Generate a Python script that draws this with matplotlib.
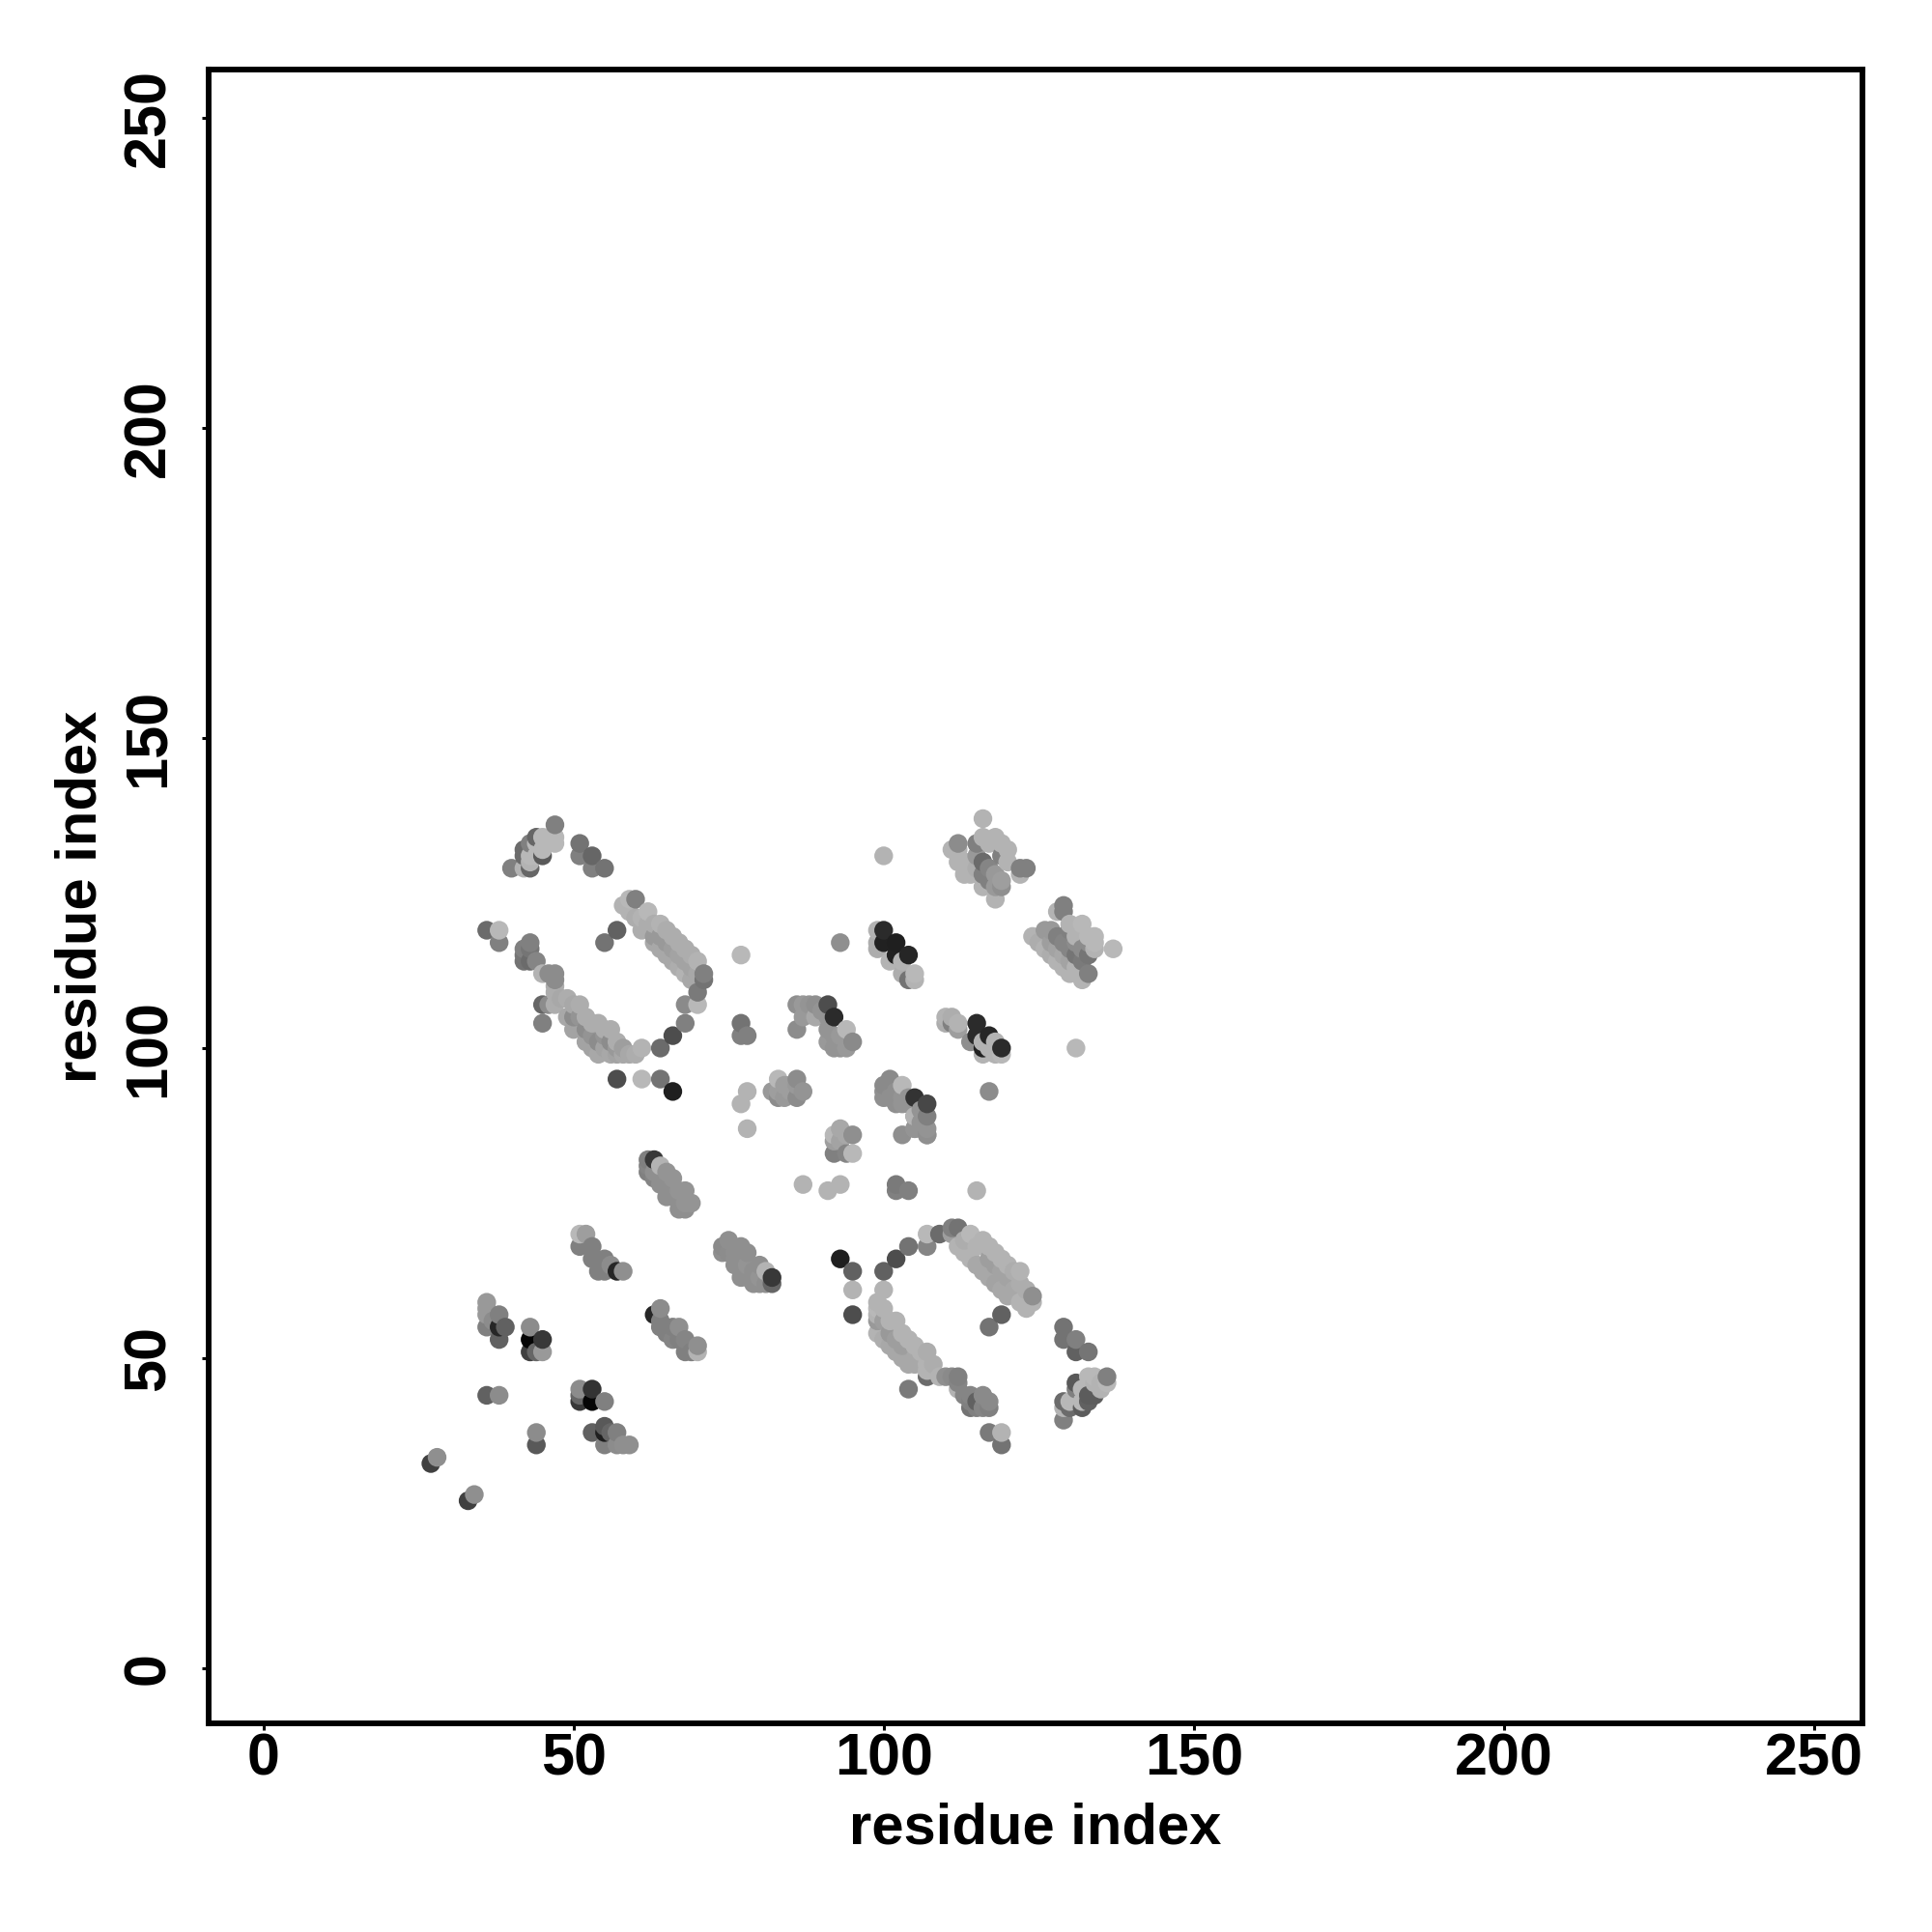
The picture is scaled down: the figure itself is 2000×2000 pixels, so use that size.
import numpy as np
import matplotlib
matplotlib.use('Agg')
import matplotlib.pyplot as plt

plt.rcParams['font.family'] = ['Liberation Sans', 'DejaVu Sans']

tick_values = [0, 50, 100, 150, 200, 250]
x_limits = (-8.83, 257.8)
y_limits = (-8.9, 257.8)
axis_label = 'residue index'

# one line per cluster, x / y / grey level stay in the same order
contact_x = [
    40, 42, 42, 42, 43, 43, 43, 43, 44, 44, 44, 45, 45, 45, 46, 46, 47, 47, 47, 51, 51, 53, 53, 55,
    36, 38, 38, 55, 57, 77,
    42, 42, 42, 43, 43, 43, 44, 45, 46, 47, 47,
    45, 45, 46, 47, 47, 47, 48, 49, 49, 50, 50, 50, 51, 51, 52, 52, 52, 53, 53, 53, 54, 54, 54, 55, 55, 55, 56, 56, 56, 57, 57, 57, 58, 58, 59, 60,
    58, 59, 59, 60, 60, 61, 61, 62, 62, 63, 63, 63, 64, 64, 64, 65, 65, 65, 66, 66, 66, 67, 67, 67, 68, 68, 68, 69, 69, 69, 70, 70, 70, 70, 71, 71,
    61, 64, 66, 68, 68, 57, 61, 64, 66,
    77, 77, 78, 78, 77, 78,
    83, 83, 84, 85, 86, 86, 87, 82, 83, 84, 85, 86,
    111, 112, 112, 112, 113, 113, 114, 114, 115, 115, 115, 116, 116, 116, 116, 117, 117, 117, 118, 118, 118, 118, 119, 119, 119, 119, 120, 120, 122, 122, 123, 116, 100,
    124, 125, 126, 126, 127, 127, 127, 128, 128, 128, 128, 129, 129, 129, 129, 129, 130, 130, 130, 130, 130, 131, 131, 131, 131, 132, 132, 132, 132, 133, 133, 133, 133, 134, 134, 134, 137, 93,
    99, 99, 99, 100, 100, 101, 102, 102, 103, 103, 104, 104, 105, 105,
    86, 86, 87, 87, 88, 89, 89, 90, 91, 91, 91, 91, 92, 92, 92, 93, 93, 94, 94, 95,
    110, 110, 111, 111, 112, 112, 114, 115, 115, 116, 116, 116, 117, 117, 118, 118, 119, 119, 131, 117,
    100, 100, 100, 101, 101, 102, 102, 103, 103, 103, 104, 104, 105, 105, 105, 105, 106, 106, 107, 107, 107, 107,
    92, 92, 92, 93, 93, 94, 94, 95, 95, 103, 105, 107,
    87, 91, 93, 102, 102, 104, 115,
    93, 95, 95, 95, 100, 100, 102, 104, 107, 107, 109, 111, 111, 112, 112,
    113, 113, 114, 114, 115, 115, 116, 116, 117, 117, 117, 118, 118, 118, 119, 119, 119, 120, 120, 120, 121, 121, 122, 122, 122, 123, 123, 124, 124, 119, 117,
    99, 99, 99, 99, 99, 100, 100, 100, 101, 101, 101, 102, 102, 102, 103, 103, 103, 104, 104, 104, 105, 105, 105, 106, 106, 107, 107, 107, 107, 108, 104,
    109, 110, 111, 112, 112, 112, 113, 114, 114, 114, 115, 115, 116, 116, 117, 117, 117, 119, 119,
    129, 129, 131, 131, 133,
    129, 129, 129, 130, 130, 131, 131, 131, 132, 132, 132, 133, 133, 133, 134, 134, 134, 135, 135, 136, 136,
    62, 62, 62, 63, 63, 63, 64, 64, 65, 65, 65, 66, 66, 66, 67, 67, 67, 68, 68, 68, 69,
    51, 52, 51, 53, 53, 54, 55, 55, 56, 57, 58,
    75, 75, 74, 74, 76, 76, 76, 77, 77, 77, 78, 78, 78, 79, 79, 80, 80, 80, 81, 81, 82, 82,
    63, 64, 64, 64, 65, 66, 66, 67, 67, 68, 68, 69, 70, 70,
    36, 36, 36, 36, 37, 38, 38, 39, 38,
    43, 43, 43, 44, 45, 45,
    36, 38, 51, 51, 51, 53, 53, 55,
    44, 44, 53, 55, 55, 55, 56, 57, 57, 58, 59,
    27, 28, 33, 34,
]
contact_y = [
    129, 129, 131, 132, 129, 130, 131, 133, 131, 133, 134, 131, 132, 134, 133, 134, 133, 134, 136, 133, 131, 131, 129, 129,
    119, 119, 117, 117, 119, 115,
    114, 115, 116, 114, 116, 117, 114, 112, 112, 111, 112,
    104, 107, 107, 107, 109, 110, 108, 105, 108, 103, 105, 107, 105, 107, 101, 103, 105, 100, 102, 104, 99, 101, 104, 100, 102, 103, 99, 101, 103, 99, 100, 101, 99, 100, 99, 99,
    123, 122, 124, 121, 124, 119, 121, 120, 122, 117, 118, 120, 116, 118, 120, 115, 117, 119, 114, 116, 118, 113, 115, 117, 112, 114, 116, 111, 113, 115, 107, 109, 112, 114, 111, 112,
    100, 100, 102, 104, 107, 95, 95, 95, 93,
    104, 102, 102, 93, 91, 87,
    92, 95, 92, 93, 92, 95, 93, 93, 93, 94, 94, 94,
    132, 130, 132, 133, 128, 130, 128, 130, 129, 131, 133, 126, 128, 130, 134, 127, 129, 133, 124, 126, 128, 134, 126, 127, 131, 133, 130, 132, 128, 129, 129, 137, 131,
    118, 117, 116, 119, 115, 117, 119, 114, 116, 118, 122, 113, 115, 117, 122, 123, 112, 114, 116, 119, 120, 113, 115, 117, 118, 111, 114, 116, 120, 112, 115, 117, 118, 116, 117, 118, 116, 117,
    116, 117, 119, 117, 119, 114, 115, 117, 112, 114, 111, 115, 111, 112,
    103, 107, 105, 107, 107, 105, 107, 106, 101, 103, 105, 107, 100, 102, 105, 100, 102, 100, 103, 101,
    104, 105, 104, 105, 103, 104, 101, 102, 104, 99, 100, 101, 100, 102, 99, 101, 99, 100, 100, 93,
    92, 93, 94, 92, 95, 91, 93, 91, 92, 94, 91, 92, 89, 92, 87, 89, 88, 90, 87, 89, 91, 86,
    83, 85, 86, 85, 87, 83, 86, 83, 86, 86, 87, 86,
    78, 77, 78, 78, 77, 77, 77,
    66, 57, 61, 64, 61, 64, 66, 68, 68, 70, 70, 70, 71, 68, 71,
    67, 69, 66, 70, 65, 68, 64, 69, 63, 66, 68, 62, 65, 67, 61, 64, 66, 60, 63, 65, 61, 64, 59, 62, 64, 58, 61, 59, 60, 57, 55,
    54, 56, 57, 58, 59, 53, 56, 58, 52, 54, 56, 51, 53, 56, 50, 52, 54, 49, 52, 53, 49, 50, 52, 49, 51, 47, 48, 49, 51, 49, 45,
    47, 47, 47, 45, 46, 47, 44, 42, 43, 44, 42, 43, 42, 44, 38, 42, 43, 36, 38,
    53, 55, 51, 53, 51,
    40, 42, 43, 42, 43, 43, 45, 46, 42, 43, 45, 43, 44, 47, 44, 46, 47, 45, 46, 46, 47,
    80, 81, 82, 79, 80, 82, 78, 81, 76, 78, 80, 76, 77, 79, 74, 75, 77, 74, 75, 77, 75,
    68, 70, 70, 66, 68, 64, 64, 66, 65, 64, 64,
    67, 69, 68, 67, 65, 66, 67, 63, 65, 68, 63, 65, 67, 62, 64, 62, 63, 65, 62, 64, 62, 63,
    57, 55, 56, 58, 54, 53, 55, 53, 55, 51, 53, 51, 51, 52,
    55, 57, 58, 59, 56, 53, 57, 55, 55,
    51, 53, 55, 51, 51, 53,
    44, 44, 43, 44, 45, 43, 45, 43,
    36, 38, 38, 36, 38, 39, 38, 36, 38, 36, 36,
    33, 34, 27, 28,
]
contact_grey = [
    .5, .7, .42, .42, .4, .7, .72, .5, .72, .72, .4, .35, .72, .72, .72, .72, .72, .72, .5, .45, .5, .4, .5, .45,
    .42, .72, .5, .45, .38, .72,
    .45, .46, .5, .42, .46, .5, .52, .7, .55, .55, .55,
    .5, .4, .55, .68, .68, .68, .66, .66, .68, .64, .55, .66, .58, .68, .64, .55, .68, .64, .58, .68, .66, .55, .68, .64, .58, .68, .66, .55, .68, .64, .6, .68, .66, .62, .66, .68,
    .7, .7, .72, .68, .5, .68, .7, .68, .72, .66, .6, .68, .66, .6, .7, .66, .6, .68, .66, .62, .68, .68, .64, .68, .7, .64, .68, .66, .64, .68, .72, .48, .66, .7, .45, .5,
    .7, .42, .3, .5, .54, .3, .72, .45, .12,
    .45, .5, .5, .7, .7, .7,
    .55, .72, .6, .62, .55, .55, .58, .6, .62, .62, .62, .6,
    .7, .7, .7, .55, .7, .7, .7, .7, .68, .6, .5, .7, .5, .42, .7, .5, .52, .7, .7, .6, .6, .7, .56, .62, .5, .7, .7, .7, .7, .5, .5, .7, .7,
    .7, .68, .7, .6, .68, .62, .6, .7, .64, .5, .7, .7, .66, .52, .5, .5, .7, .64, .52, .5, .7, .7, .46, .55, .7, .7, .48, .55, .72, .5, .46, .55, .72, .7, .72, .72, .72, .56,
    .68, .68, .7, .13, .17, .7, .13, .12, .68, .7, .45, .15, .7, .72,
    .55, .56, .6, .6, .58, .66, .56, .58, .6, .58, .58, .3, .58, .58, .17, .58, .6, .6, .72, .54,
    .68, .7, .5, .68, .62, .7, .56, .17, .17, .7, .13, .7, .7, .15, .7, .7, .72, .17, .72, .55,
    .56, .56, .54, .56, .54, .56, .56, .58, .58, .72, .58, .58, .6, .2, .6, .7, .58, .58, .58, .5, .28, .58,
    .5, .62, .72, .64, .66, .52, .66, .72, .56, .56, .58, .56,
    .7, .7, .7, .48, .5, .5, .7,
    .12, .3, .7, .38, .7, .38, .3, .45, .52, .72, .42, .62, .5, .7, .45,
    .7, .68, .7, .72, .66, .7, .66, .7, .66, .62, .7, .64, .62, .7, .66, .64, .7, .66, .64, .7, .66, .68, .7, .68, .7, .7, .68, .7, .56, .38, .45,
    .7, .6, .7, .72, .7, .68, .62, .7, .66, .6, .7, .66, .62, .7, .66, .62, .7, .66, .62, .7, .66, .66, .7, .66, .7, .42, .7, .7, .68, .68, .48,
    .7, .56, .54, .7, .52, .5, .52, .45, .5, .52, .5, .38, .52, .54, .48, .5, .54, .45, .7,
    .45, .45, .38, .5, .46,
    .5, .7, .42, .42, .72, .72, .5, .35, .36, .72, .72, .38, .36, .72, .36, .7, .72, .7, .7, .72, .5,
    .5, .52, .5, .52, .56, .22, .56, .7, .56, .56, .58, .56, .56, .58, .56, .56, .58, .56, .58, .58, .58,
    .5, .62, .72, .5, .5, .5, .5, .5, .55, .15, .56,
    .55, .56, .54, .56, .56, .56, .56, .56, .56, .56, .56, .58, .56, .56, .56, .56, .58, .56, .56, .7, .4, .22,
    .15, .5, .5, .55, .5, .52, .5, .5, .56, .5, .52, .5, .7, .56,
    .5, .6, .6, .6, .55, .38, .5, .38, .15,
    .25, .02, .55, .4, .6, .22,
    .38, .55, .22, .4, .55, .02, .2, .5,
    .35, .55, .38, .5, .12, .35, .4, .55, .5, .56, .56,
    .25, .56, .25, .56,
]

order = np.lexsort((contact_y, contact_x))
xs = np.array(contact_x)[order]
ys = np.array(contact_y)[order]
greys = np.array(contact_grey)[order]

fig = plt.figure(figsize=(20, 20), dpi=100)
ax = fig.add_axes([0.108, 0.108, 0.856, 0.856])

ax.scatter(xs, ys, c=[str(g) for g in greys], s=195, linewidths=0, zorder=3)

ax.set_xlim(*x_limits)
ax.set_ylim(*y_limits)
ax.set_xticks(tick_values)
ax.set_yticks(tick_values)
ax.tick_params(axis='both', length=5, width=2.2, labelsize=44)
ax.tick_params(axis='x', pad=2)
ax.tick_params(axis='y', pad=18.5)
for lab in ax.get_xticklabels():
    lab.set_fontweight('bold')
for lab in ax.get_yticklabels():
    lab.set_fontweight('bold')
    lab.set_rotation(90)
    lab.set_verticalalignment('center')
for spine in ax.spines.values():
    spine.set_linewidth(4.2)

ax.set_xlabel(axis_label, fontsize=43, fontweight='bold')
ax.set_ylabel(axis_label, fontsize=43, fontweight='bold')
ax.xaxis.set_label_coords(0.5, -0.0476)
ax.yaxis.set_label_coords(-0.0612, 0.5)

plt.savefig('out.png', dpi=100)
